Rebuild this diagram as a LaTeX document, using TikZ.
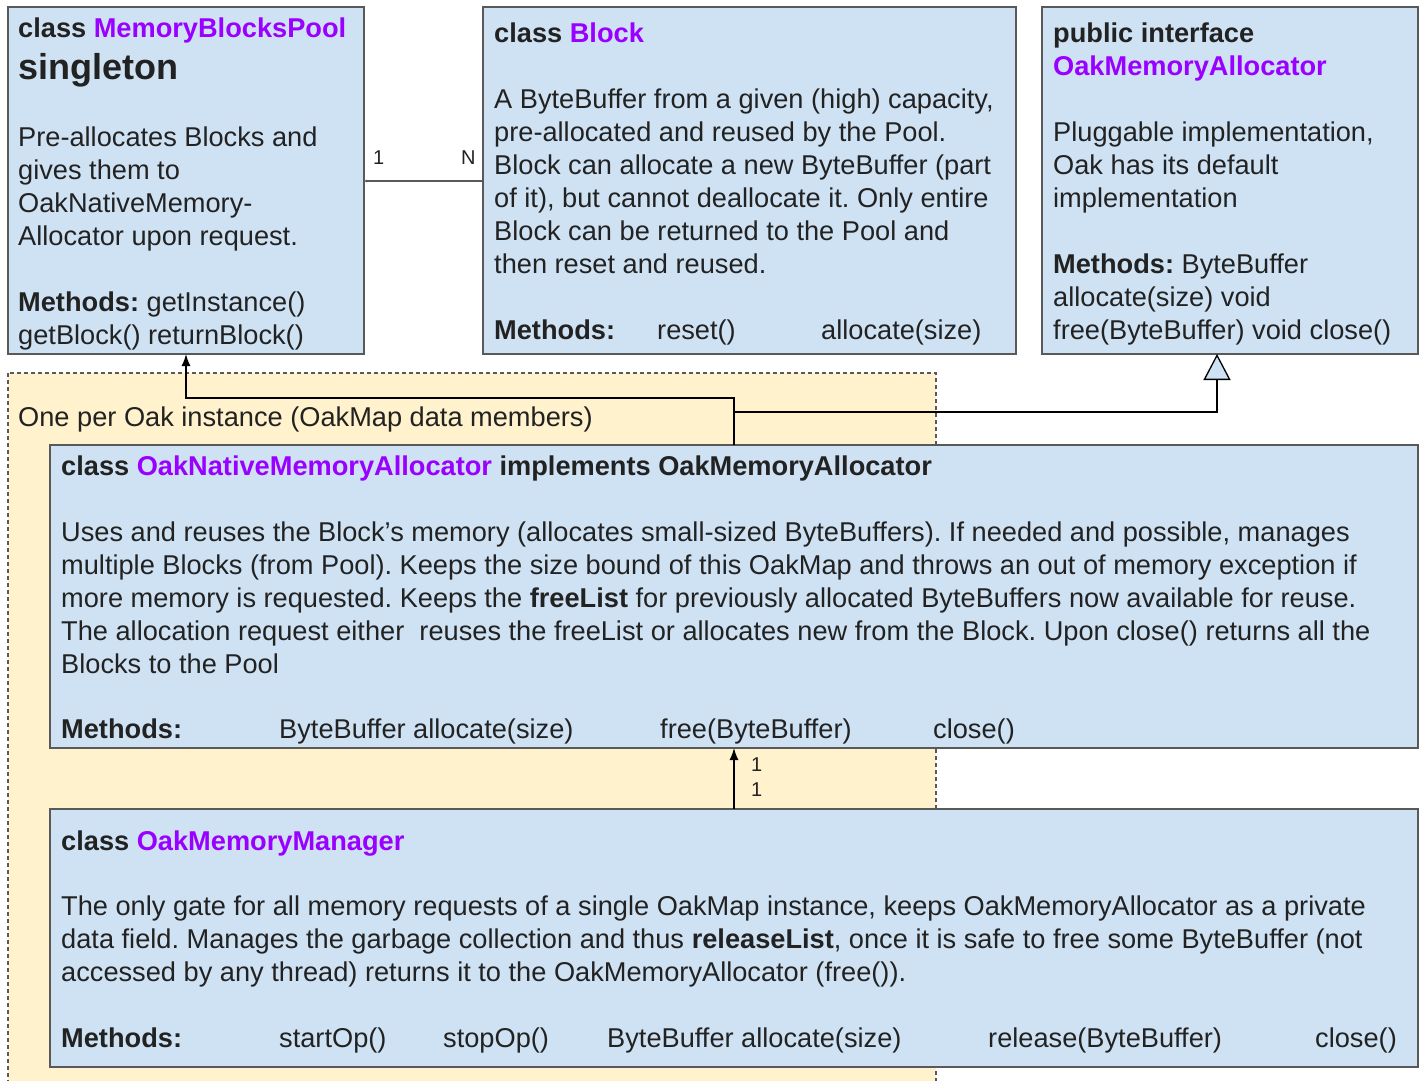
\documentclass[tikz,border=0pt]{standalone}
\usepackage{fontspec}
\setmainfont{Liberation Sans}
\usetikzlibrary{arrows.meta}
\definecolor{boxblue}{HTML}{CFE2F3}
\definecolor{boxline}{HTML}{595959}
\definecolor{yel}{HTML}{FFF2CC}
\definecolor{purp}{HTML}{9900FF}
\definecolor{ink}{HTML}{222222}
\tikzset{
  box/.style={draw=boxline, line width=1.3pt, fill=boxblue, inner sep=0pt, outer sep=0pt, anchor=north west},
  txt/.style={anchor=base west, inner sep=0pt, text=ink, font=\fontsize{27.2}{33}\selectfont},
  conn/.style={draw=black, line width=1.4pt},
  lbl/.style={anchor=base west, inner sep=0pt, text=ink, font=\fontsize{20}{22}\selectfont},
}
\newcommand{\pu}[1]{\textcolor{purp}{#1}}
\frenchspacing
\begin{document}
\begin{tikzpicture}[x=1pt,y=-1pt]
\useasboundingbox (0,0) rectangle (1425,1080);
% yellow region
\path[fill=yel, draw=boxline, line width=1.3pt, dash pattern=on 4pt off 3pt] (8,373) rectangle (936,1100);
% boxes
\node[box, minimum width=356pt, minimum height=347pt] (pool) at (8,7) {};
\node[box, minimum width=533pt, minimum height=347pt] (block) at (483,7) {};
\node[box, minimum width=376pt, minimum height=347pt] (iface) at (1042,7) {};
\node[box, minimum width=1368pt, minimum height=303pt] (native) at (50,445) {};
\node[box, minimum width=1368pt, minimum height=258pt] (manager) at (50,809) {};
% pool text
\node[txt] (p1) at (18,37) {\textbf{class \pu{MemoryBlocksPool}}};
\node[txt, font=\fontsize{36}{40}\selectfont\bfseries] (p2) at (18,79) {singleton};
\node[txt] (p3) at (18,146) {Pre-allocates Blocks and};
\node[txt] (p4) at (18,179) {gives them to};
\node[txt] (p5) at (18,212) {OakNativeMemory-};
\node[txt] (p6) at (18,245) {Allocator upon request.};
\node[txt] (p7) at (18,311) {\textbf{Methods:} getInstance()};
\node[txt] (p8) at (18,344) {getBlock() returnBlock()};
% block text
\node[txt] (b1) at (494,42) {\textbf{class \pu{Block}}};
\node[txt] (b2) at (494,108) {A ByteBuffer from a given (high) capacity,};
\node[txt] (b3) at (494,141) {pre-allocated and reused by the Pool.};
\node[txt] (b4) at (494,174) {Block can allocate a new ByteBuffer (part};
\node[txt] (b5) at (494,207) {of it), but cannot deallocate it. Only entire};
\node[txt] (b6) at (494,240) {Block can be returned to the Pool and};
\node[txt] (b7) at (494,273) {then reset and reused.};
\node[txt] (b8) at (494,339) {\textbf{Methods:}};
\node[txt] (b9) at (657,339) {reset()};
\node[txt] (b10) at (821,339) {allocate(size)};
% interface text
\node[txt] (i1) at (1053,42) {\textbf{public interface}};
\node[txt] (i2) at (1053,75) {\textbf{\pu{OakMemoryAllocator}}};
\node[txt] (i3) at (1053,141) {Pluggable implementation,};
\node[txt] (i4) at (1053,174) {Oak has its default};
\node[txt] (i5) at (1053,207) {implementation};
\node[txt] (i6) at (1053,273) {\textbf{Methods:} ByteBuffer};
\node[txt] (i7) at (1053,306) {allocate(size) void};
\node[txt] (i8) at (1053,339) {free(ByteBuffer) void close()};
% yellow label
\node[txt] (y1) at (18,426) {One per Oak instance (OakMap data members)};
% native text
\node[txt] (n1) at (61,475) {\textbf{class \pu{OakNativeMemoryAllocator} implements OakMemoryAllocator}};
\node[txt] (n2) at (61,541) {Uses and reuses the Block’s memory (allocates small-sized ByteBuffers). If needed and possible, manages};
\node[txt] (n3) at (61,574) {multiple Blocks (from Pool). Keeps the size bound of this OakMap and throws an out of memory exception if};
\node[txt] (n4) at (61,607) {more memory is requested. Keeps the \textbf{freeList} for previously allocated ByteBuffers now available for reuse.};
\node[txt] (n5) at (61,640) {The allocation request either\ \ reuses the freeList or allocates new from the Block. Upon close() returns all the};
\node[txt] (n6) at (61,673) {Blocks to the Pool};
\node[txt] (n7) at (61,738) {\textbf{Methods:}};
\node[txt] (n8) at (279,738) {ByteBuffer allocate(size)};
\node[txt] (n9) at (660,738) {free(ByteBuffer)};
\node[txt] (n10) at (933,738) {close()};
% manager text
\node[txt] (m1) at (61,850) {\textbf{class \pu{OakMemoryManager}}};
\node[txt] (m2) at (61,915) {The only gate for all memory requests of a single OakMap instance, keeps OakMemoryAllocator as a private};
\node[txt] (m3) at (61,948) {data field. Manages the garbage collection and thus \textbf{releaseList}, once it is safe to free some ByteBuffer (not};
\node[txt] (m4) at (61,981) {accessed by any thread) returns it to the OakMemoryAllocator (free()).};
\node[txt] (m5) at (61,1047) {\textbf{Methods:}};
\node[txt] (m6) at (279,1047) {startOp()};
\node[txt] (m7) at (443,1047) {stopOp()};
\node[txt] (m8) at (607,1047) {ByteBuffer allocate(size)};
\node[txt] (m9) at (988,1047) {release(ByteBuffer)};
\node[txt] (m10) at (1315,1047) {close()};
% connectors
\coordinate (j1) at (734,398);
\coordinate (j2) at (734,412);
\draw[conn, -{Latex[length=12pt,width=9pt]}] (native.north) -- (j1) -| (pool.south);
\draw[conn, -{Triangle[open, fill=boxblue, length=26pt, width=27pt, line width=1.3pt]}] (j2) -| ([xshift=-13pt]iface.south);
\draw[line width=1.3pt, draw=boxline, -{Latex[length=3pt,width=3pt]}] (block.west |- 0,181) -- (pool.east |- 0,181);
\node[lbl] (l1) at (373,164) {1};
\node[lbl] (l2) at (461,164) {N};
\draw[conn, -{Latex[length=12pt,width=9pt]}] (manager.north) -- (native.south);
\node[lbl] (l3) at (751,771) {1};
\node[lbl] (l4) at (751,796) {1};
\end{tikzpicture}
\end{document}
